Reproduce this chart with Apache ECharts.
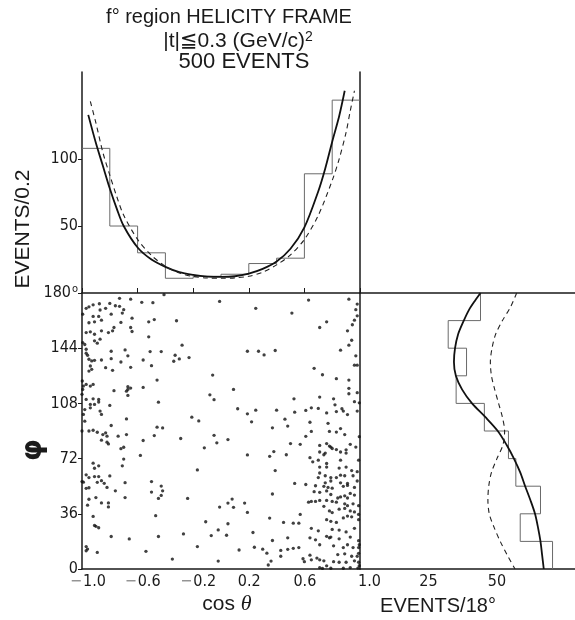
<!DOCTYPE html>
<html><head><meta charset="utf-8">
<script src="https://cdn.jsdelivr.net/npm/echarts@6/dist/echarts.min.js"></script>
<style>html,body{margin:0;padding:0;background:#fff}#c{width:575px;height:620px}</style>
</head><body><div id="c"></div>
<script>
// ---------------- DATA ----------------
const cosBinLow = [-1.0, -0.8, -0.6, -0.4, -0.2, 0.0, 0.2, 0.4, 0.6, 0.8];
const cosBinWidth = 0.2;
const cosCounts = [108, 50, 30, 11, 12.5, 14, 22, 26, 89, 144];

const phiBinLow = [0, 18, 36, 54, 72, 90, 108, 126, 144, 162];
const phiBinWidth = 18;
const phiCounts = [70.3, 58.5, 65.9, 56.9, 54.2, 45.4, 35.1, 38.9, 32.2, 44];

const cosCurveSolid = [[-0.955,133],[-0.9,112],[-0.85,95],[-0.8,78],[-0.75,63],[-0.7,50],[-0.6,34],[-0.5,25],[-0.4,19.5],[-0.3,15.5],[-0.2,13.5],[-0.1,12.3],[0,12],[0.1,12.5],[0.2,14.5],[0.3,18],[0.4,23.5],[0.5,33],[0.6,49],[0.7,76],[0.75,93],[0.8,113],[0.85,132],[0.89,151]];
const cosCurveDashed = [[-0.94,143],[-0.9,127],[-0.85,105],[-0.8,88],[-0.75,72],[-0.7,58],[-0.6,40],[-0.5,28],[-0.4,20],[-0.3,15],[-0.2,12.3],[-0.1,11.2],[0,11],[0.1,11.3],[0.2,12.5],[0.3,15.5],[0.4,21],[0.5,28.5],[0.6,40],[0.7,58],[0.8,84],[0.85,100],[0.9,120],[0.93,136],[0.96,151]];

const phiCurveSolid = [[44,180],[42,175],[39.8,169],[37.9,162],[35.8,153],[34.7,144],[34.3,135],[35,126],[37.3,117],[40.9,108],[45.8,99],[50.3,90],[53.5,81],[56.2,72],[58.5,63],[60.3,54],[62.2,45],[63.9,36],[65,27],[65.9,18],[66.5,9],[67.1,0]];
const phiCurveDashed = [[57.2,180],[55,171],[52,162],[49.5,153],[48.2,144],[47.6,135],[48,126],[49.2,117],[50.6,108],[52,99],[52.8,90],[52.2,81],[50,72],[48,63],[47,54],[46.7,45],[47.2,36],[49,27],[51.2,18],[53.8,9],[56.6,0]];

// scatter: [cos theta, phi]
const scatterPoints = [
[-0.73,176.5],[-0.875,173],[-0.80,173.2],[-0.92,172.3],[-0.95,171],[-0.76,171.7],[-0.97,170],[-0.73,171.3],[-0.70,169.1],[-0.995,166.2],[-0.87,168.9],[-0.83,170],[-0.79,166.2],[-0.71,166.9],[-0.92,164.7],[-0.88,164.7],[-0.86,162.3],[-0.91,161.2],[-0.95,160.6],[-0.72,160.8],[-0.77,157.5],[-0.78,155.3],[-0.81,154.2],[-0.97,154.2],[-0.94,154.7],[-0.91,153.1],[-0.86,155.3],[-0.91,148.8],[-0.87,149.9],[-0.89,147.3],[-0.995,147.7],[-0.98,146.4],[-0.97,143.3],[-0.97,140.7],[-0.96,139.4],[-0.95,136.8],[-0.93,135.7],[-0.91,136.1],[-0.94,132.4],[-0.93,130.2],[-0.95,129.1],[-0.79,142],[-0.69,142.9],[-0.67,139],[-0.79,137.2],[-0.72,135],[-0.86,136.3],[-0.83,131.3],[-0.78,129.6],[-0.998,122.6],[-0.99,119.3],[-0.995,117.1],[-1.0,113.9],[-0.97,120.4],[-0.94,119.3],[-0.92,120.4],[-0.77,116.3],[-0.67,118.9],[-0.67,117.1],[-0.68,116],[-0.67,113.2],[-0.97,110.6],[-0.92,111],[-0.88,110.6],[-0.88,108.9],[-0.94,107.3],[-0.91,107.3],[-0.98,104],[-0.94,105.1],[-0.87,103],[-0.86,100.8],[-0.80,106.7],[-0.99,100.8],[-0.98,96.4],[-0.68,97.9],[-0.79,93.6],
[-0.41,178.9],[-0.65,176],[-0.57,173.9],[-0.49,173.7],[-0.01,174.5],[0.25,170],[-0.64,163.6],[-0.52,161.2],[-0.48,162.7],[-0.32,161.9],[-0.65,157.5],[-0.64,154.9],[-0.52,151.4],[-0.28,146],[-0.51,141.8],[-0.43,141.8],[-0.33,139.4],[-0.34,135.5],[-0.30,137],[-0.23,137.9],[-0.56,136.3],[-0.50,132.6],[-0.65,131.5],[-0.46,123.2],[-0.65,118],[-0.56,118.4],[-0.45,108.8],[-0.06,126.5],[-0.08,113.6],[-0.05,110.4],[0.09,117.1],[0.19,142],[0.27,142],[0.31,139.6],[0.39,142.5],[0.12,104.5],[0.19,101.2],[0.25,103.6],[0.22,96],[0.40,103.6],[0.37,92.1],[-0.21,99],[-0.16,96.6],[-0.46,92.5],[-0.42,92],[-0.48,87],[-0.29,85.1],[-0.05,87.2],[0.05,84.4],
[0.51,166.9],[0.63,175.4],[0.92,176],[0.98,172.8],[0.97,169.1],[0.98,165.1],[0.96,162.3],[0.945,159.3],[0.91,155.3],[0.94,149.2],[0.92,146],[0.86,142.7],[0.97,139],[0.96,132.9],[0.98,132.9],[0.71,157.5],[0.76,161.2],[0.67,130.9],[0.73,126.7],[0.83,124.1],[0.92,123.2],[0.92,117.8],[0.92,114.3],[0.995,108.4],[0.96,109.1],[0.71,112.1],[0.81,111],[0.82,107.1],[0.87,104.5],[0.525,111],[0.65,105.1],[0.70,104.7],[0.98,115],
[-0.03,82.3],[-0.12,79],[0.19,74.4],[0.35,73.5],[0.38,76.6],[-0.17,64.6],[0.37,48.9],[0.08,45.6],[0.05,43],[-0.01,40.4],[0.09,40.2],[0.17,43],[0.19,36.9],[-0.11,30.8],[0.05,29.5],[0.35,33.2],[-0.02,25.5],[-0.07,21.8],[0.04,22],[0.23,23.8],[0.37,18.6],[-0.17,14.6],[0.13,12.4],[0.24,14.2],[0.30,12.9],[0.33,10.3],[0.36,5.2],[0.34,2.6],[-0.02,5.2],
[0.46,97.7],[0.48,93.2],[0.53,102.3],[0.61,103.4],[0.64,95.7],[0.76,101.8],[0.77,95],[0.83,102.7],[0.88,103],[0.91,100.7],[0.98,103],[0.78,89.7],[0.83,89.3],[0.86,91.6],[0.89,87.7],[0.995,86.3],[0.61,86.5],[0.65,89.7],[0.50,81.8],[0.57,81.3],[0.47,74.5],[0.71,80.6],[0.76,81.8],[0.78,80.2],[0.79,79.5],[0.80,78.6],[0.71,76.3],[0.74,74.5],[0.75,75.6],[0.83,77.9],[0.86,76.3],[0.90,77.7],[0.93,81.3],[0.97,79.5],[0.64,72.6],[0.66,69.9],[0.70,71],[0.76,68.8],[0.86,71],[0.90,75.6],[0.99,71],[0.71,66.5],[0.76,66.5],[0.85,65.8],[0.90,66.5],[0.94,64.2],[0.98,63.5],[0.71,62.6],[0.70,59.6],[0.75,60.8],[0.79,59.6],[0.83,59.6],[0.86,61.2],[0.89,60.8],[0.95,60.8],[0.98,57.4],[0.53,55.8],[0.61,55.1],[0.75,56.2],[0.79,57.4],[0.86,56.2],[0.91,55.8],[0.39,64.2],
[0.68,54.3],[0.74,53.9],[0.77,53.2],[0.80,52.7],[0.88,53.9],[0.91,54.5],[0.96,53.2],[0.67,50.4],[0.71,50.0],[0.76,50.9],[0.79,48.6],[0.84,46.3],[0.86,47.0],[0.89,47.7],[0.91,46.3],[0.93,49.3],[0.96,48.2],[0.63,43.6],[0.65,44.1],[0.68,44.1],[0.71,44.7],[0.76,44.7],[0.80,44.1],[0.83,43.6],[0.89,42.5],[0.91,41.3],[0.95,42.5],[0.99,41.3],[0.74,40.9],[0.78,37.9],[0.80,36.8],[0.85,39.0],[0.89,39.5],[0.93,37.9],[0.96,37.2],[0.99,35.6],[0.76,32.2],[0.79,31.1],[0.83,30.4],[0.88,33.3],[0.91,34.5],[0.94,34.0],[0.99,32.2],[0.45,30.4],[0.52,29.9],[0.56,29.9],[0.57,35.6],[0.65,26.5],[0.70,24.9],[0.80,25.8],[0.85,25.4],[0.90,24.2],[0.96,26.5],[0.48,20.3],[0.64,20.3],[0.68,19.0],[0.76,21.3],[0.78,20.3],[0.79,20.8],[0.85,19.7],[0.93,20.8],[0.99,18.5],[0.48,12.8],[0.52,13.5],[0.43,12.1],[0.43,8.3],[0.56,14.0],[0.71,15.8],[0.81,15.1],[0.88,14.0],[0.91,15.8],[0.95,14.0],[0.99,14.0],[0.995,15.8],[0.59,6.7],[0.64,9.0],[0.65,6.0],[0.69,7.1],[0.71,6.0],[0.84,9.4],[0.89,9.9],[0.94,8.3],[0.98,8.3],[0.99,10.2],[0.60,4.8],[0.74,5.3],[0.81,4.8],[0.85,4.4],[0.90,4.4],[0.96,5.3],[0.99,4.4],[0.71,0.9],[0.73,0.4],[0.76,2.1],[0.79,0.5],[0.88,0.5],[0.93,0.9],[0.985,0.6],[0.995,2.2],
[-1.0,90],[-0.95,90],[-0.92,90.5],[-0.89,89.2],[-0.85,87.7],[-0.83,88.8],[-0.82,86.6],[-0.86,84],[-0.82,82.7],[-0.81,81.6],[-0.74,86.6],[-0.68,87.7],[-0.56,83.8],[-0.70,79.4],[-0.72,78.5],[-0.58,74.1],[-0.70,71.7],[-0.92,69],[-0.88,67.3],[-0.91,65.7],[-0.71,67.3],[-0.97,61.4],[-0.95,59.6],[-0.91,60.3],[-0.88,60.3],[-1.0,57],[-0.99,56.6],[-0.89,56.5],[-0.86,57.6],[-0.84,55.9],[-0.80,60.7],[-0.82,53.2],[-0.97,52.6],[-0.95,53],[-0.76,51],[-0.69,56.3],[-0.50,57],[-0.43,54.1],[-0.42,51],[-0.50,50.2],[-0.43,48],[-0.45,46],[-0.24,46],[-0.90,46.6],[-0.95,45.5],[-0.69,46.6],[-0.86,43.1],[-0.81,43.1],[-0.81,40.5],[-0.96,41.6],[-0.92,34.3],[-0.47,34.8],[-0.91,28.4],[-0.90,27.8],[-0.88,26.9],[-0.79,21.2],[-0.66,19.6],[-0.45,21.2],[-0.27,22.9],[-0.97,14.6],[-0.96,13],[-0.97,11.9],[-0.89,10.8],[-0.54,11.5],[-0.35,6.5]
];

const cosTickValues = [-1.0, -0.6, -0.2, 0.2, 0.6, 1.0];
const cosTickLabels = ['−1.0', '−0.6', '−0.2', '0.2', '0.6', '1.0'];
const phiTickValues = [0, 36, 72, 108, 144, 180];
const phiTickLabels = ['0', '36', '72', '108', '144', '180'];
const topCountTicks = [50, 100];
const phiCountTicks = [25, 50];

// ---------------- BUILD ----------------
const topStep = [];
cosBinLow.forEach((lo, i) => { topStep.push([lo, cosCounts[i]], [lo + cosBinWidth, cosCounts[i]]); });
const rightStep = [];
phiBinLow.forEach((lo, i) => { rightStep.push([phiCounts[i], lo], [phiCounts[i], lo + phiBinWidth]); });

const INK = '#1a1a1a';
const NUMFONT = '"Liberation Sans Narrow","DejaVu Sans Condensed",sans-serif';
const TXTFONT = '"Liberation Sans","DejaVu Sans",sans-serif';
const labelShift = [12, 10, 10, 0, 0, 18];

const axisLineStyle = {show: true, onZero: false, lineStyle: {color: INK, width: 1.5}};
const numLabel = {color: INK, fontSize: 16, fontFamily: NUMFONT};

const chart = echarts.init(document.getElementById('c'), null, {renderer: 'canvas'});
const option = {
  backgroundColor: '#fff',
  animation: false,
  grid: [
    {left: 82, top: 72, width: 278, height: 221},
    {left: 82, top: 293, width: 278, height: 276},
    {left: 360, top: 293, width: 215, height: 276}
  ],
  xAxis: [
    {gridIndex: 0, type: 'value', min: -1, max: 1, interval: 0.4, position: 'bottom',
     axisLine: axisLineStyle, axisLabel: {show: false}, splitLine: {show: false},
     axisTick: {show: true, inside: true, length: 5, lineStyle: {color: INK, width: 1}}},
    {gridIndex: 1, type: 'value', min: -1, max: 1, interval: 0.4, position: 'bottom',
     axisLine: axisLineStyle, splitLine: {show: false}, axisTick: {show: false},
     axisLabel: Object.assign({}, numLabel, {margin: 5, showMinLabel: true, showMaxLabel: true,
       formatter: function (v) {
         const i = cosTickValues.findIndex(t => Math.abs(t - v) < 1e-6);
         if (i < 0) return '';
         const s = cosTickLabels[i];
         if (s[0] === '−') return '{m' + i + '|−}{n|' + s.slice(1) + '}';
         return '{m' + i + '|}{n|' + s + '}';
       },
       rich: (function () {
         const r = {n: {fontSize: 16, fontFamily: NUMFONT, color: INK}};
         labelShift.forEach((p, i) => { r['m' + i] = {fontSize: 16, fontFamily: NUMFONT, color: '#8a8a8a', padding: [0, 1, 0, p]}; });
         return r;
       })()
     })},
    {gridIndex: 2, type: 'value', min: 0, max: 78.5, interval: 25, position: 'bottom',
     axisLine: axisLineStyle, splitLine: {show: false}, axisTick: {show: false},
     axisLabel: Object.assign({}, numLabel, {margin: 5, customValues: phiCountTicks,
       formatter: v => (phiCountTicks.indexOf(v) >= 0 ? String(v) : '')})},
    {gridIndex: 2, type: 'value', min: 0, max: 78.5, position: 'top',
     axisLine: axisLineStyle, splitLine: {show: false}, axisTick: {show: false}, axisLabel: {show: false}}
  ],
  yAxis: [
    {gridIndex: 0, type: 'value', min: 0, max: 165, interval: 50, position: 'left',
     axisLine: axisLineStyle, splitLine: {show: false},
     axisTick: {show: true, length: 4, customValues: topCountTicks, lineStyle: {color: INK, width: 1}},
     axisLabel: Object.assign({}, numLabel, {margin: 4, customValues: topCountTicks,
       formatter: v => (topCountTicks.indexOf(v) >= 0 ? String(v) : '')})},
    {gridIndex: 0, type: 'value', min: 0, max: 165, position: 'right',
     axisLine: axisLineStyle, splitLine: {show: false}, axisTick: {show: false}, axisLabel: {show: false}},
    {gridIndex: 1, type: 'value', min: 0, max: 180, interval: 36, position: 'left',
     axisLine: axisLineStyle, splitLine: {show: false},
     axisTick: {show: true, length: 4, lineStyle: {color: INK, width: 1}},
     axisLabel: Object.assign({}, numLabel, {margin: 4, showMaxLabel: true,
       formatter: function (v) {
         const i = phiTickValues.indexOf(v);
         if (i < 0) return '';
         return v === 180 ? '{n|' + phiTickLabels[i] + '}{s|o}' : '{n|' + phiTickLabels[i] + '}';
       },
       rich: {n: {fontSize: 16, fontFamily: NUMFONT, color: INK},
              s: {fontSize: 11, fontFamily: NUMFONT, color: INK, verticalAlign: 'top', padding: [0, 0, 8, 1]}}
     })},
    {gridIndex: 2, type: 'value', min: 0, max: 180, position: 'left',
     axisLine: axisLineStyle, splitLine: {show: false}, axisTick: {show: false}, axisLabel: {show: false}}
  ],
  series: [
    {type: 'line', xAxisIndex: 0, yAxisIndex: 0, data: topStep, symbol: 'none',
     lineStyle: {color: '#6a6a6a', width: 1}, z: 2},
    {type: 'line', xAxisIndex: 0, yAxisIndex: 0, data: cosCurveSolid, symbol: 'none', smooth: 0.3,
     lineStyle: {color: '#111', width: 1.8}, z: 3},
    {type: 'line', xAxisIndex: 0, yAxisIndex: 0, data: cosCurveDashed, symbol: 'none', smooth: 0.3,
     lineStyle: {color: '#222', width: 1.1, type: [5, 4]}, z: 3},
    {type: 'scatter', xAxisIndex: 1, yAxisIndex: 2, data: scatterPoints, symbol: 'circle', symbolSize: 3.3,
     itemStyle: {color: '#111'}, z: 3},
    {type: 'line', xAxisIndex: 2, yAxisIndex: 3, data: rightStep, symbol: 'none',
     lineStyle: {color: '#6a6a6a', width: 1}, z: 2},
    {type: 'line', xAxisIndex: 2, yAxisIndex: 3, data: phiCurveSolid, symbol: 'none', smooth: 0.3,
     lineStyle: {color: '#111', width: 1.8}, z: 3},
    {type: 'line', xAxisIndex: 2, yAxisIndex: 3, data: phiCurveDashed, symbol: 'none', smooth: 0.3,
     lineStyle: {color: '#222', width: 1.1, type: [5, 4]}, z: 3}
  ],
  graphic: [
    {type: 'text', x: 229, y: 17, style: {text: 'f° region HELICITY FRAME', font: '20px ' + TXTFONT, fill: INK, align: 'center', verticalAlign: 'middle'}},
    {type: 'text', x: 238, y: 41, style: {text: '{a||t|≦0.3 (GeV/c)}{s|2}', fill: INK, align: 'center', verticalAlign: 'middle',
      rich: {a: {fontSize: 21, fontFamily: TXTFONT, fill: INK}, s: {fontSize: 14, fontFamily: TXTFONT, fill: INK, verticalAlign: 'top'}}}},
    {type: 'text', x: 244, y: 62, style: {text: '500 EVENTS', font: '22px ' + TXTFONT, fill: INK, align: 'center', verticalAlign: 'middle'}},
    {type: 'text', x: 23, y: 229, rotation: Math.PI / 2, style: {text: 'EVENTS/0.2', font: '21px ' + TXTFONT, fill: INK, align: 'center', verticalAlign: 'middle'}},
    {type: 'text', x: 34, y: 450, rotation: Math.PI / 2, style: {text: 'φ', font: 'bold 28px "DejaVu Sans",sans-serif', fill: INK, align: 'center', verticalAlign: 'middle'}},
    {type: 'text', x: 227, y: 604, style: {text: '{a|cos }{b|θ}', fill: INK, align: 'center', verticalAlign: 'middle',
      rich: {a: {fontSize: 21, fontFamily: TXTFONT, fill: INK}, b: {fontSize: 22, fontFamily: '"Liberation Serif",serif', fontStyle: 'italic', fill: INK}}}},
    {type: 'text', x: 438, y: 606, style: {text: 'EVENTS/18°', font: '20px ' + TXTFONT, fill: INK, align: 'center', verticalAlign: 'middle'}}
  ]
};
chart.setOption(option);
</script>
</body></html>
